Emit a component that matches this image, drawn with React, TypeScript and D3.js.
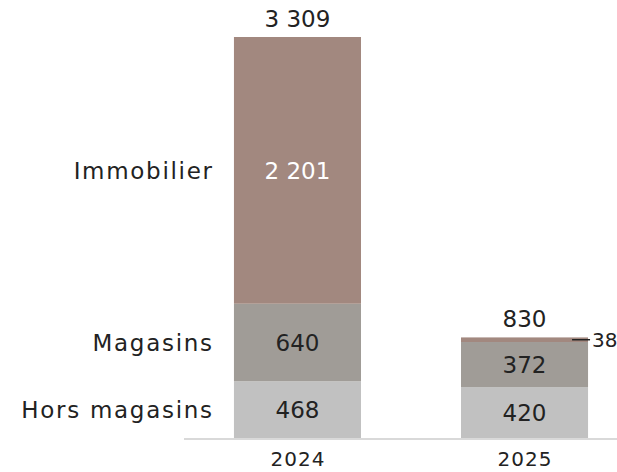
import React from "react";
import * as d3 from "d3";

const years = ["2024", "2025"];
const seriesNames = ["Hors magasins", "Magasins", "Immobilier"];
const horsMagasins = [468, 420];
const magasins = [640, 372];
const immobilier = [2201, 38];
const totals = [3309, 830];
const colors = ["#c1c1c1", "#a09c97", "#a2887f"];

const W = 617;
const H = 472;
const baseY = 438;

export default function App() {
  const rows = years.map((y, i) => ({
    year: y,
    "Hors magasins": horsMagasins[i],
    Magasins: magasins[i],
    Immobilier: immobilier[i],
  }));
  const stack = d3.stack<any>().keys(seriesNames)(rows);
  const y = d3.scaleLinear().domain([0, 3309]).range([baseY, 37]);
  const x = d3
    .scaleBand()
    .domain(years)
    .range([184, 638])
    .paddingInner(0.4405)
    .paddingOuter(0.22);
  const fmt = (v: number) => d3.format(",")(v).replace(/,/g, " ");
  const font = "'DejaVu Sans', sans-serif";
  const numFs = 23;
  const labFs = 23;
  const labLs = 1.7;

  return (
    <svg
      width={W}
      height={H}
      style={{ position: "absolute", left: 0, top: 0 }}
      fontFamily={font}
    >
      <line x1={184} x2={638} y1={baseY + 1} y2={baseY + 1} stroke="#d9d9d9" strokeWidth={2} />
      {stack.map((s, si) => (
        <g key={s.key}>
          {s.map((d, i) => {
            const yr = years[i];
            const x0 = x(yr)!;
            const top = y(d[1]);
            const bot = y(d[0]);
            const val = d[1] - d[0];
            const mid = (top + bot) / 2;
            const small = bot - top < 20;
            return (
              <g key={yr}>
                <rect x={x0} y={top} width={x.bandwidth()} height={bot - top} fill={colors[si]} />
                {!small ? (
                  <text
                    x={x0 + x.bandwidth() / 2}
                    y={mid}
                    dy="0.36em"
                    textAnchor="middle"
                    fontSize={numFs}
                    fill={si === 2 ? "#ffffff" : "#222222"}
                  >
                    {fmt(val)}
                  </text>
                ) : (
                  <g>
                    <line
                      x1={x0 + x.bandwidth() - 16}
                      x2={x0 + x.bandwidth() + 2}
                      y1={mid}
                      y2={mid}
                      stroke="#222"
                      strokeWidth={1.5}
                    />
                    <text x={x0 + x.bandwidth() + 4} y={mid} dy="0.36em" fontSize={20} fill="#222">
                      {fmt(val)}
                    </text>
                  </g>
                )}
                {i === 0 && (
                  <text
                    x={212 + labLs}
                    y={mid}
                    dy="0.36em"
                    textAnchor="end"
                    fontSize={labFs}
                    letterSpacing={labLs}
                    fill="#222"
                  >
                    {s.key}
                  </text>
                )}
              </g>
            );
          })}
        </g>
      ))}
      {years.map((yr, i) => (
        <text
          key={"t" + yr}
          x={x(yr)! + x.bandwidth() / 2}
          y={y(totals[i]) - 10}
          textAnchor="middle"
          fontSize={numFs}
          fill="#222"
        >
          {fmt(totals[i])}
        </text>
      ))}
      {years.map((yr) => (
        <text
          key={"x" + yr}
          x={x(yr)! + x.bandwidth() / 2 + 0.5}
          y={466}
          textAnchor="middle"
          fontSize={20}
          letterSpacing={1}
          fill="#222"
        >
          {yr}
        </text>
      ))}
    </svg>
  );
}
